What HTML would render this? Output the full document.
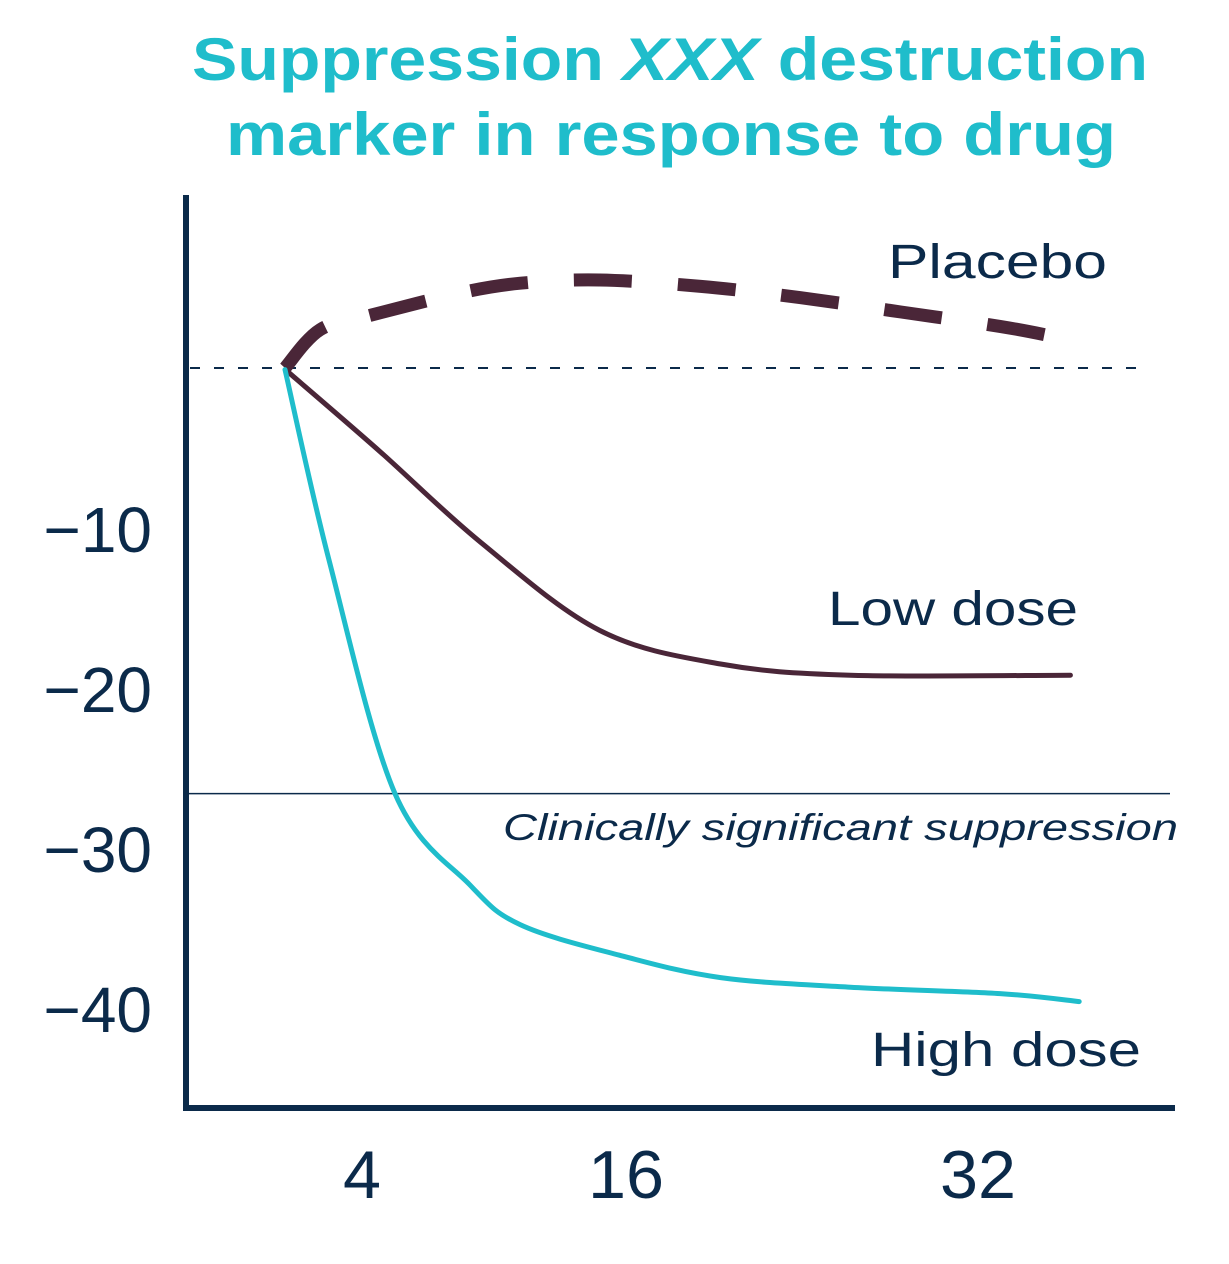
<!DOCTYPE html>
<html><head><meta charset="utf-8"><style>
html,body{margin:0;padding:0;background:#fff;}
svg{display:block;font-family:"Liberation Sans",sans-serif;}
</style></head><body>
<svg id="chart" width="1229" height="1264" viewBox="0 0 1229 1264" xmlns="http://www.w3.org/2000/svg">
<text x="670" y="80" text-anchor="middle" font-size="60" font-weight="bold" fill="#1fbdcb" textLength="956" lengthAdjust="spacingAndGlyphs">Suppression <tspan font-style="italic">XXX</tspan> destruction</text>
<text x="671" y="155" text-anchor="middle" font-size="60" font-weight="bold" fill="#1fbdcb" textLength="890" lengthAdjust="spacingAndGlyphs">marker in response to drug</text>
<g id="marks"></g>
<line x1="186" y1="195" x2="186" y2="1111" stroke="#0b2a4a" stroke-width="6"/>
<line x1="186" y1="1108" x2="1175" y2="1108" stroke="#0b2a4a" stroke-width="6"/>
<g id="ticks"></g>
<text x="888" y="278" font-size="48" fill="#0b2a4a" textLength="219" lengthAdjust="spacingAndGlyphs">Placebo</text>
<text x="828" y="625" font-size="48" fill="#0b2a4a" textLength="250" lengthAdjust="spacingAndGlyphs">Low dose</text>
<text x="871" y="1066" font-size="48" fill="#0b2a4a" textLength="270" lengthAdjust="spacingAndGlyphs">High dose</text>
<text x="503" y="840" font-size="37" font-style="italic" fill="#0b2a4a" textLength="675" lengthAdjust="spacingAndGlyphs">Clinically significant suppression</text>
</svg>
<script>
const xTicks = [4, 16, 32];
const yTicks = [-10, -20, -30, -40];
const thresholdValue = -26.6;
const placeboT = [0.5, 2.1, 4.4, 8.5, 11.2, 14.8, 19.4, 23.9, 28.5, 33, 35.7];
const placeboV = [0, 2.4, 3.3, 4.7, 5.3, 5.5, 5.1, 4.4, 3.5, 2.6, 1.9];
const lowT = [0.6, 4.8, 9.4, 14.8, 20.3, 26.2, 36.2];
const lowV = [-0.2, -5.2, -10.9, -16.4, -18.5, -19.2, -19.2];
const highT = [0.5, 2.5, 5.5, 8.9, 11.2, 15.7, 20.3, 26.2, 33, 36.6];
const highV = [-0.1, -12, -26.6, -32.3, -34.8, -36.7, -38.1, -38.7, -39.1, -39.6];

const NS = "http://www.w3.org/2000/svg";
function xs(t){ return 274 + t * 22; }
function ys(v){ return 368 - v * 16.0; }
function pathFrom(T, V){
  const p = T.map((t,i)=>[xs(t), ys(V[i])]);
  let d = "M" + p[0][0] + "," + p[0][1];
  for (let i=0;i<p.length-1;i++){
    const p0=p[Math.max(i-1,0)], p1=p[i], p2=p[i+1], p3=p[Math.min(i+2,p.length-1)];
    const c1=[p1[0]+(p2[0]-p0[0])/6, p1[1]+(p2[1]-p0[1])/6];
    const c2=[p2[0]-(p3[0]-p1[0])/6, p2[1]-(p3[1]-p1[1])/6];
    d += " C"+c1[0]+","+c1[1]+" "+c2[0]+","+c2[1]+" "+p2[0]+","+p2[1];
  }
  return d;
}
const marks = document.getElementById("marks");
const ticks = document.getElementById("ticks");

const base = document.createElementNS(NS,"line");


base.setAttribute("x1",190); base.setAttribute("x2",1145);
base.setAttribute("y1",ys(0)); base.setAttribute("y2",ys(0));
base.setAttribute("stroke","#0b2a4a"); base.setAttribute("stroke-width","2");
base.setAttribute("stroke-dasharray","10 14");
marks.appendChild(base);

const thr = document.createElementNS(NS,"line");


thr.setAttribute("x1",186); thr.setAttribute("x2",1170);
thr.setAttribute("y1",ys(thresholdValue)); thr.setAttribute("y2",ys(thresholdValue));
thr.setAttribute("stroke","#0b2a4a"); thr.setAttribute("stroke-width","1.5");
marks.appendChild(thr);

const pl = document.createElementNS(NS,"path");


pl.setAttribute("d", pathFrom(placeboT, placeboV));
pl.setAttribute("fill","none"); pl.setAttribute("stroke","#4a2638");
pl.setAttribute("stroke-width","13"); pl.setAttribute("stroke-dasharray","58 46");
marks.appendChild(pl);

const lo = document.createElementNS(NS,"path");


lo.setAttribute("d", pathFrom(lowT, lowV));
lo.setAttribute("fill","none"); lo.setAttribute("stroke","#4a2638");
lo.setAttribute("stroke-width","5"); lo.setAttribute("stroke-linecap","round");
marks.appendChild(lo);

const hi = document.createElementNS(NS,"path");


hi.setAttribute("d", pathFrom(highT, highV));
hi.setAttribute("fill","none"); hi.setAttribute("stroke","#1fbdcb");
hi.setAttribute("stroke-width","5"); hi.setAttribute("stroke-linecap","round");
marks.appendChild(hi);

xTicks.forEach(t=>{
  const tx = document.createElementNS(NS,"text");
  
  
  tx.setAttribute("x", xs(t)); tx.setAttribute("y", 1198);
  tx.setAttribute("text-anchor","middle"); tx.setAttribute("font-size","68");
  tx.setAttribute("fill","#0b2a4a");
  tx.setAttribute("textLength", String(t).length * 38);
  tx.setAttribute("lengthAdjust","spacingAndGlyphs");
  tx.textContent = t;
  ticks.appendChild(tx);
});
yTicks.forEach(v=>{
  const tx = document.createElementNS(NS,"text");
  
  
  tx.setAttribute("x", 152); tx.setAttribute("y", ys(v) + 24);
  tx.setAttribute("text-anchor","end"); tx.setAttribute("font-size","64");
  tx.setAttribute("fill","#0b2a4a");
  tx.textContent = "\u2212" + Math.abs(v);
  ticks.appendChild(tx);
});
</script>
</body></html>
